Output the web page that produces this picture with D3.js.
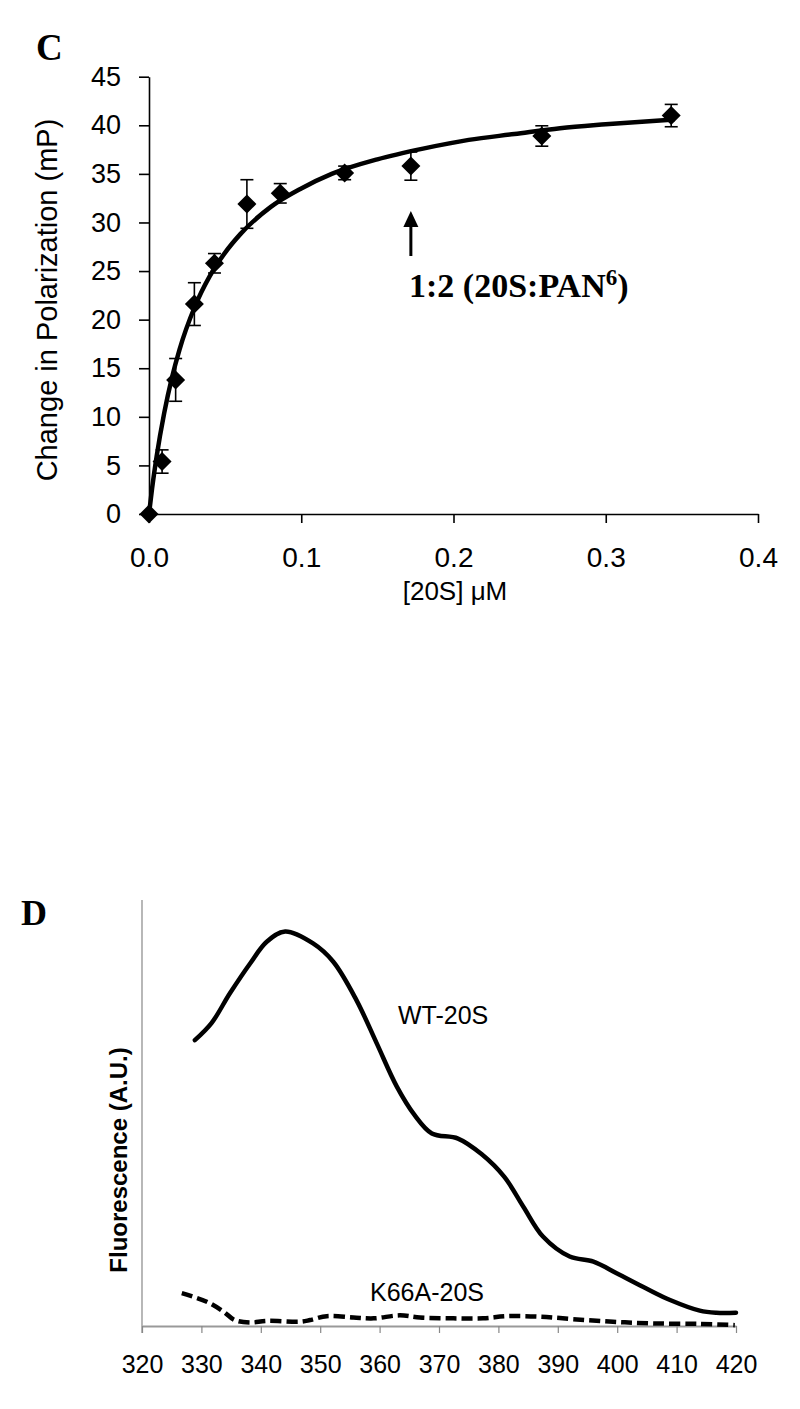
<!DOCTYPE html>
<html><head><meta charset="utf-8">
<script src="https://cdn.jsdelivr.net/npm/d3@7"></script>
<style>
html,body{margin:0;padding:0;background:#fff;}
svg{display:block;}
</style>
</head><body>
<script>
// ---------- Panel C data ----------
const cConc = [0, 0.0086, 0.0175, 0.0298, 0.043, 0.0643, 0.0862, 0.1285, 0.172, 0.258, 0.343];
const cPol  = [0, 5.4, 13.8, 21.6, 25.8, 31.9, 33.0, 35.1, 35.8, 38.9, 41.0];
const cErr  = [0, 1.2, 2.2, 2.2, 1.0, 2.5, 1.0, 0.7, 1.45, 1.05, 1.15];
const fitConc = [0, 0.002, 0.005, 0.01, 0.015, 0.02, 0.03, 0.04, 0.05, 0.06, 0.08, 0.1, 0.12, 0.15, 0.18, 0.21, 0.24, 0.27, 0.30, 0.345];
const fitPol  = [0, 2.6, 5.9, 10.4, 14.0, 16.9, 21.3, 24.5, 26.9, 28.8, 31.6, 33.5, 35.0, 36.5, 37.6, 38.5, 39.1, 39.7, 40.1, 40.6];
const cYTicks = [0, 5, 10, 15, 20, 25, 30, 35, 40, 45];
const cXTicks = [0, 0.1, 0.2, 0.3, 0.4];
const arrowConc = 0.172;

// ---------- Panel D data ----------
const wtNm  = [328.9, 331.7, 334.8, 338.2, 341.0, 344.1, 348.8, 352.2, 356.1, 359.5, 362.9, 365.9, 368.8, 373.2, 377.2, 381.0, 384.2, 387.5, 392.0, 396.0, 399.9, 404.9, 408.9, 413.9, 416.7, 420];
const wtFl  = [67.1, 71.1, 78.1, 85.1, 90.2, 92.6, 89.8, 85.5, 76.5, 66.4, 56.2, 49.5, 45.2, 44.0, 40.3, 35.0, 28.0, 21.0, 16.3, 15.1, 12.4, 8.8, 6.1, 3.6, 3.1, 3.1];
const mutNm = [326.7, 330.9, 333.7, 335.6, 338.2, 341.0, 346.6, 348.3, 351.1, 355.6, 359.0, 363.4, 366.8, 372.4, 377.4, 381.4, 387.0, 392.6, 399.3, 406.1, 413.9, 419.8];
const mutFl = [7.7, 5.7, 3.4, 1.4, 0.8, 1.2, 1.0, 1.4, 2.3, 2.0, 1.8, 2.5, 2.0, 1.8, 1.8, 2.3, 2.2, 1.6, 1.0, 0.6, 0.5, 0.2];
const dXTicks = [320, 330, 340, 350, 360, 370, 380, 390, 400, 410, 420];

const W = 800, H = 1409;
const svg = d3.select("body").append("svg").attr("width", W).attr("height", H);
const SANS = "'Liberation Sans', Arial, sans-serif";
const SERIF = "'Liberation Serif', 'Times New Roman', serif";

// ================= Panel C =================
const cx = d3.scaleLinear().domain([0, 0.4]).range([149, 758]);
const cy = d3.scaleLinear().domain([0, 45]).range([514, 76.7]);

svg.append("text").attr("x", 36).attr("y", 60)
  .attr("font-family", SERIF).attr("font-weight", "bold").attr("font-size", 37).text("C");

const cxAxis = svg.append("g").attr("transform", `translate(0,${cy(0)})`)
  .call(d3.axisBottom(cx).tickValues(cXTicks).tickFormat(d3.format(".1f")).tickSize(9).tickSizeOuter(0));
cxAxis.selectAll("text").attr("y", 53).attr("dy", 0)
  .attr("font-family", SANS).attr("font-size", 28).attr("fill", "#000");
cxAxis.select(".domain").attr("stroke", "#000").attr("stroke-width", 1.6);
cxAxis.selectAll(".tick line").attr("stroke", "#000").attr("stroke-width", 1.6);

const cyAxis = svg.append("g").attr("transform", `translate(${cx(0)},0)`)
  .call(d3.axisLeft(cy).tickValues(cYTicks).tickSize(10).tickPadding(18).tickSizeOuter(0));
cyAxis.selectAll("text").attr("font-family", SANS).attr("font-size", 27).attr("fill", "#000");
cyAxis.select(".domain").attr("stroke", "#000").attr("stroke-width", 1.6);
cyAxis.selectAll(".tick line").attr("stroke", "#000").attr("stroke-width", 1.6);

svg.append("text").attr("transform", "translate(57,300) rotate(-90)")
  .attr("text-anchor", "middle").attr("font-family", SANS).attr("font-size", 29)
  .text("Change in Polarization (mP)");
svg.append("text").attr("x", 455).attr("y", 600).attr("text-anchor", "middle")
  .attr("font-family", SANS).attr("font-size", 26).text("[20S] \u03bcM");

// fit curve
const fitData = fitConc.map((c, i) => [c, fitPol[i]]);
svg.append("path").datum(fitData)
  .attr("d", d3.line().x(d => cx(d[0])).y(d => cy(d[1])).curve(d3.curveMonotoneX))
  .attr("fill", "none").attr("stroke", "#000").attr("stroke-width", 4.5);

// error bars
const cData = cConc.map((c, i) => ({c, p: cPol[i], e: cErr[i]}));
const eb = svg.append("g").attr("stroke", "#000").attr("stroke-width", 1.6);
cData.filter(d => d.e > 0).forEach(d => {
  const x = cx(d.c), y1 = cy(d.p + d.e), y2 = cy(d.p - d.e);
  eb.append("line").attr("x1", x).attr("x2", x).attr("y1", y1).attr("y2", y2);
  eb.append("line").attr("x1", x - 6.5).attr("x2", x + 6.5).attr("y1", y1).attr("y2", y1);
  eb.append("line").attr("x1", x - 6.5).attr("x2", x + 6.5).attr("y1", y2).attr("y2", y2);
});
// diamonds
svg.append("g").selectAll("path").data(cData).join("path")
  .attr("transform", d => `translate(${cx(d.c)},${cy(d.p)})`)
  .attr("d", "M0,-9.5L9.5,0L0,9.5L-9.5,0Z").attr("fill", "#000");

// arrow + annotation
const ax = cx(arrowConc);
svg.append("line").attr("x1", ax).attr("x2", ax).attr("y1", 256).attr("y2", 224)
  .attr("stroke", "#000").attr("stroke-width", 3);
svg.append("path").attr("d", `M${ax},211L${ax + 7.5},227L${ax - 7.5},227Z`).attr("fill", "#000");
const ann = svg.append("text").attr("x", 409).attr("y", 297)
  .attr("font-family", SERIF).attr("font-weight", "bold").attr("font-size", 34);
ann.append("tspan").text("1:2 (20S:PAN");
ann.append("tspan").attr("font-size", 23).attr("dy", -12).text("6");
ann.append("tspan").attr("dy", 12).text(")");

// ================= Panel D =================
const dx = d3.scaleLinear().domain([320, 420]).range([142, 736]);
const dy = d3.scaleLinear().domain([0, 100]).range([1326, 900]);

svg.append("text").attr("x", 21).attr("y", 925)
  .attr("font-family", SERIF).attr("font-weight", "bold").attr("font-size", 36).text("D");

svg.append("line").attr("x1", 142).attr("x2", 142).attr("y1", 900).attr("y2", 1333)
  .attr("stroke", "#888").attr("stroke-width", 1.2);

const dxAxis = svg.append("g").attr("transform", `translate(0,${dy(0)})`)
  .call(d3.axisBottom(dx).tickValues(dXTicks).tickFormat(d3.format("d")).tickSize(7).tickSizeOuter(0));
dxAxis.select(".domain").attr("stroke", "#999").attr("stroke-width", 2);
dxAxis.selectAll(".tick line").attr("stroke", "#888").attr("stroke-width", 1.2);
dxAxis.selectAll("text").attr("y", 47).attr("dy", 0)
  .attr("font-family", SANS).attr("font-size", 25).attr("fill", "#000");

svg.append("text").attr("transform", "translate(127,1160) rotate(-90)")
  .attr("text-anchor", "middle").attr("font-family", SANS).attr("font-weight", "bold")
  .attr("font-size", 24).text("Fluorescence (A.U.)");

const dline = d3.line().x(d => dx(d[0])).y(d => dy(d[1])).curve(d3.curveCatmullRom.alpha(0.5));
svg.append("path").datum(wtNm.map((n, i) => [n, wtFl[i]])).attr("d", dline)
  .attr("fill", "none").attr("stroke", "#000").attr("stroke-width", 4.5).attr("stroke-linecap", "round");
svg.append("path").datum(mutNm.map((n, i) => [n, mutFl[i]])).attr("d", dline)
  .attr("fill", "none").attr("stroke", "#000").attr("stroke-width", 4.5).attr("stroke-dasharray", "11,5");

svg.append("text").attr("x", 398).attr("y", 1024).attr("font-family", SANS).attr("font-size", 25).text("WT-20S");
svg.append("text").attr("x", 370).attr("y", 1301).attr("font-family", SANS).attr("font-size", 25).text("K66A-20S");
</script>
</body></html>
